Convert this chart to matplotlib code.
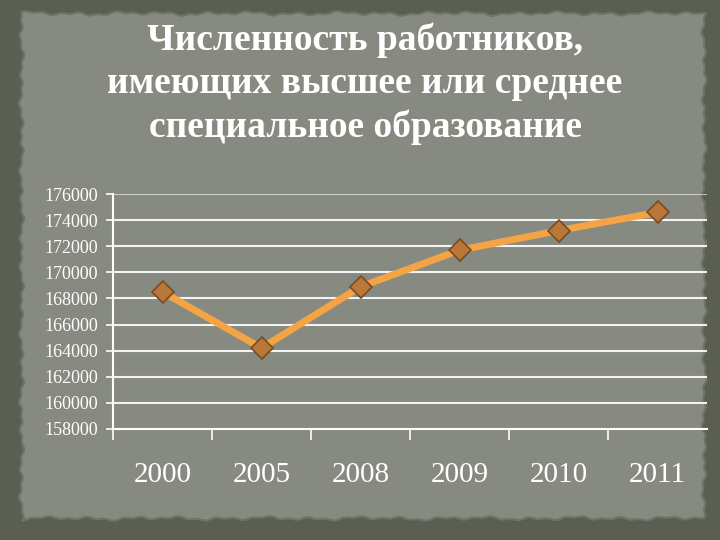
import numpy as np
import matplotlib as mpl

mpl.use('agg')

import matplotlib.pyplot as plt
from matplotlib.patches import Polygon

# chart data
years = ['2000', '2005', '2008', '2009', '2010', '2011']
workers = [168500, 164200, 168900, 171700, 173200, 174600]
yticks = list(range(158000, 176001, 2000))

title = 'Численность работников,\nимеющих высшее или среднее\nспециальное образование'

BORDER = '#5a5f51'
PANEL = '#878a80'
LINE = '#f4a444'
MARKER = '#b9773a'


def torn_edge(n, amp, seed_shift):
    # irregular (but deterministic) wobble for the paper edge
    t = np.linspace(0, 1, n)
    return amp * (np.sin(t * 97 + seed_shift) * 0.4 + np.sin(t * 233 + 2 * seed_shift) * 0.35
                  + np.sin(t * 41 + 3 * seed_shift) * 0.25)


def main():
    fig = plt.figure(figsize=(7.2, 5.4), dpi=100)
    fig.patch.set_facecolor(BORDER)

    # paper panel with rough edges (figure coordinates)
    n = 160
    top_x = np.linspace(0.03, 0.975, n)
    top_y = 0.975 + torn_edge(n, 0.005, 0.3)
    right_y = np.linspace(0.975, 0.04, n)
    right_x = 0.978 + torn_edge(n, 0.004, 1.1)
    bot_x = np.linspace(0.978, 0.03, n)
    bot_y = 0.04 + torn_edge(n, 0.005, 2.2)
    left_y = np.linspace(0.04, 0.975, n)
    left_x = 0.03 + torn_edge(n, 0.004, 0.7)
    pts = np.column_stack([np.concatenate([top_x, right_x, bot_x, left_x]),
                           np.concatenate([top_y, right_y, bot_y, left_y])])
    fig.patches.append(Polygon(pts, closed=True, transform=fig.transFigure,
                               facecolor=PANEL, edgecolor='#6f7368', linewidth=1.5, zorder=-5))

    fig.text(0.507, 0.845, title, ha='center', va='center', color='white',
             fontsize=27, fontweight='bold', family='Liberation Serif', linespacing=1.3)

    ax = fig.add_axes([0.157, 0.2056, 0.825, 0.435])
    ax.set_facecolor('none')

    x = np.arange(len(years))
    ax.plot(x, workers, color=LINE, linewidth=5, solid_capstyle='round', zorder=3)
    ax.plot(x, workers, linestyle='none', marker='D', markersize=11,
            markerfacecolor=MARKER, markeredgecolor='#7a4a20', markeredgewidth=1.2, zorder=4)

    ax.set_xlim(-0.5, len(years) - 0.5)
    ax.set_ylim(yticks[0], yticks[-1])
    ax.set_yticks(yticks)
    ax.set_yticklabels([str(v) for v in yticks], color='white', fontsize=13,
                       family='Liberation Serif')
    for v in yticks[1:]:
        ax.axhline(v, color='white', linewidth=1.5, alpha=0.9 if v < yticks[-1] else 0.6, zorder=1)

    ax.set_xticks(x)
    ax.set_xticklabels(years, color='white', fontsize=21, family='Liberation Serif')
    ax.set_xticks(np.arange(-0.5, len(years) - 0.5, 1), minor=True)
    ax.tick_params(axis='x', which='major', length=0, pad=24)
    ax.tick_params(axis='x', which='minor', length=8, color='white', width=1.2)
    ax.tick_params(axis='y', length=5, color='white', width=1.2, pad=6)

    for side in ['top', 'right']:
        ax.spines[side].set_visible(False)
    ax.spines['left'].set_color('white')
    ax.spines['bottom'].set_color('white')
    ax.spines['left'].set_linewidth(1.5)
    ax.spines['bottom'].set_linewidth(1.5)

    fig.savefig('out.png', dpi=100, facecolor=fig.get_facecolor())


if __name__ == '__main__':
    main()
